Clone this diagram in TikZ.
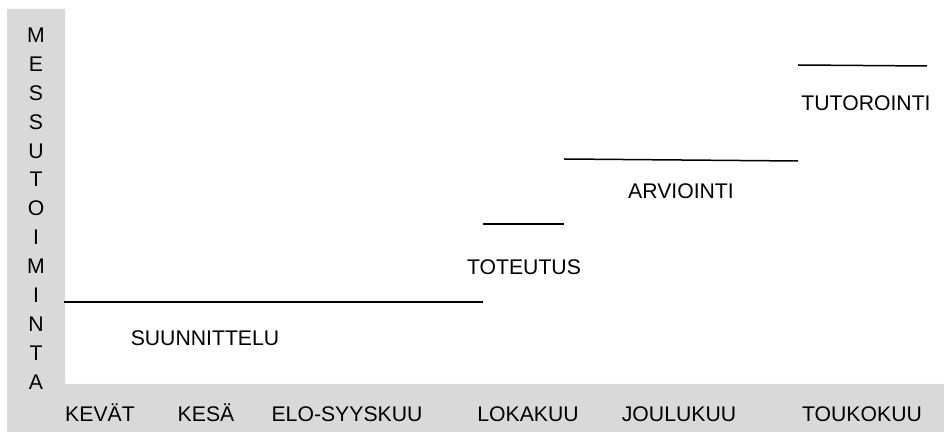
\documentclass[tikz,border=0pt]{standalone}
\usepackage{fontspec}
\setmainfont{Liberation Sans}
\usetikzlibrary{positioning}

\begin{document}
\begin{tikzpicture}[x=0.5pt,y=-0.5pt,
    lbl/.style={anchor=base,inner sep=0pt,font=\fontsize{10.6}{12}\selectfont},
    phase/.style={line width=0.75pt}]
    \useasboundingbox (0,0) rectangle (944,432);

    % Grey axis band
    \fill[black!15] (7,9) -- (65,9) -- (65,384) -- (944,384) -- (944,432) -- (7,432) -- cycle;

    % Vertical axis letters
    \foreach \l [count=\i from 0] in {M,E,S,S,U,T,O,I,M,I,N,T,A}
        \node[lbl] (v\i) at (36,42.5+28.9*\i) {\l};

    % Months
    \node[lbl] (kevat) at (100,422) {KEVÄT};
    \node[lbl] (kesa) at (206,422) {KESÄ};
    \node[lbl] (elo) at (347,422) {ELO-SYYSKUU};
    \node[lbl] (loka) at (528,422) {LOKAKUU};
    \node[lbl] (joulu) at (679,422) {JOULUKUU};
    \node[lbl] (touko) at (862,422) {TOUKOKUU};

    % Phases
    \draw[phase] (64,302) coordinate (s1) -- (483,302) coordinate (s2);
    \draw[phase] (483,224) coordinate (t1) -- (564,224) coordinate (t2);
    \draw[phase] (564,159) coordinate (a1) -- (798,161) coordinate (a2);
    \draw[phase] (798,65) coordinate (u1) -- (927,66) coordinate (u2);

    \node[lbl] (suun) at (205,345.5) {SUUNNITTELU};
    \node[lbl] (tot) at (524,274.5) {TOTEUTUS};
    \node[lbl] (arv) at (681,198.5) {ARVIOINTI};
    \node[lbl] (tut) at (866,110.5) {TUTOROINTI};
\end{tikzpicture}
\end{document}
